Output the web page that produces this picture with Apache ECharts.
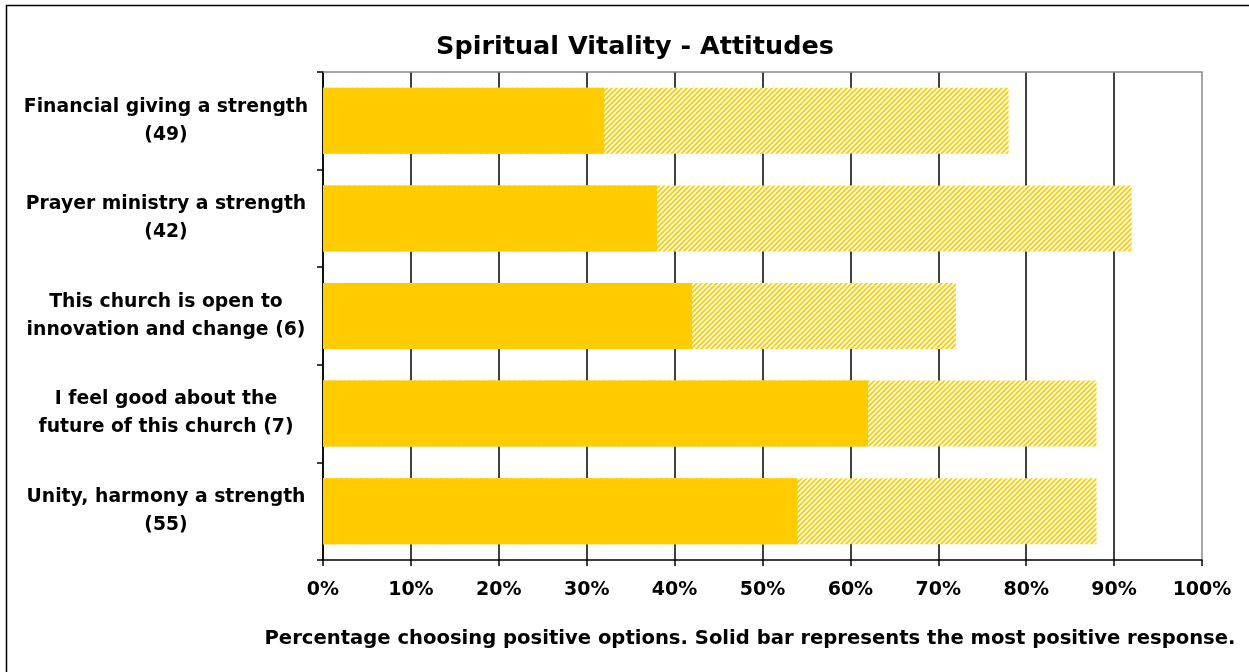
<!DOCTYPE html>
<html>
<head>
<meta charset="utf-8">
<script src="https://cdn.jsdelivr.net/npm/echarts@6/dist/echarts.min.js"></script>
<style>
	html, body { margin: 0; padding: 0; background: #fff; }
	#chart { width: 1249px; height: 672px; }
</style>
</head>
<body>
<div id="chart"></div>
<script>
const categories = [
	'Financial giving a strength\n(49)',
	'Prayer ministry a strength\n(42)',
	'This church is open to\ninnovation and change (6)',
	'I feel good about the\nfuture of this church (7)',
	'Unity, harmony a strength\n(55)'
];
// most positive response (solid) and all positive options (hatched)
const mostPositive = [32, 38, 42, 62, 54];
const allPositive = [78, 92, 72, 88, 88];
const xTicks = [0, 10, 20, 30, 40, 50, 60, 70, 80, 90, 100];

const FONT = '"DejaVu Sans", sans-serif';
const GOLD = '#ffcc00';

function hatchPattern() {
	const c = document.createElement('canvas');
	c.width = 5;
	c.height = 5;
	const ctx = c.getContext('2d');
	ctx.fillStyle = '#fff';
	ctx.fillRect(0, 0, 5, 5);
	ctx.strokeStyle = GOLD;
	ctx.lineWidth = 1.8;
	ctx.beginPath();
	ctx.moveTo(-1, 6); ctx.lineTo(6, -1);
	ctx.moveTo(-6, 6); ctx.lineTo(1, -1);
	ctx.moveTo(4, 6); ctx.lineTo(11, -1);
	ctx.stroke();
	return c;
}

const chart = echarts.init(document.getElementById('chart'));

const gridColors = xTicks.map((t, i) => i === xTicks.length - 1 ? '#888' : '#000');

chart.setOption({
	animation: false,
	textStyle: { fontFamily: FONT },
	title: [
		{
			text: 'Spiritual Vitality - Attitudes',
			left: 630,
			top: 29,
			textAlign: 'center',
			textStyle: { fontSize: 25.5, fontWeight: 'bold', color: '#000', fontFamily: FONT }
		},
		{
			text: 'Percentage choosing positive options. Solid bar represents the most positive response.',
			left: 745,
			top: 624,
			textAlign: 'center',
			textStyle: { fontSize: 19.6, fontWeight: 'bold', color: '#000', fontFamily: FONT }
		}
	],
	graphic: [{
		type: 'rect',
		shape: { x: 6.5, y: 5.5, width: 1300, height: 700 },
		style: { fill: null, stroke: '#000', lineWidth: 1.5 },
		silent: true
	}],
	grid: { left: 323, right: 47, top: 72, bottom: 112 },
	xAxis: [
		{
			type: 'value',
			min: 0,
			max: 100,
			interval: 10,
			axisLine: { show: true, lineStyle: { color: '#000', width: 1.5 } },
			axisTick: { show: true, length: 6, lineStyle: { color: '#000', width: 1.5 } },
			axisLabel: {
				formatter: v => v + '%',
				fontSize: 19,
				fontWeight: 'bold',
				color: '#000',
				margin: 21
			},
			splitLine: { show: true, lineStyle: { color: gridColors, width: 1.5 } }
		},
		{
			type: 'value',
			position: 'top',
			min: 0,
			max: 100,
			axisLine: { show: true, lineStyle: { color: '#888', width: 1.5 } },
			axisTick: { show: false },
			axisLabel: { show: false },
			splitLine: { show: false }
		}
	],
	yAxis: {
		type: 'category',
		data: categories,
		inverse: true,
		axisLine: { show: true, lineStyle: { color: '#000', width: 1.5 } },
		axisTick: { show: true, length: 6, lineStyle: { color: '#000', width: 1.5 } },
		axisLabel: {
			align: 'center',
			margin: 157,
			fontSize: 18.8,
			fontWeight: 'bold',
			color: '#000',
			lineHeight: 28
		},
		splitLine: { show: false }
	},
	series: [
		{
			name: 'All positive',
			type: 'bar',
			data: allPositive,
			barWidth: 66,
			barGap: '-100%',
			itemStyle: { color: { image: hatchPattern(), repeat: 'repeat' } },
			z: 2
		},
		{
			name: 'Most positive',
			type: 'bar',
			data: mostPositive,
			barWidth: 66,
			itemStyle: { color: GOLD },
			z: 3
		}
	]
});
</script>
</body>
</html>
